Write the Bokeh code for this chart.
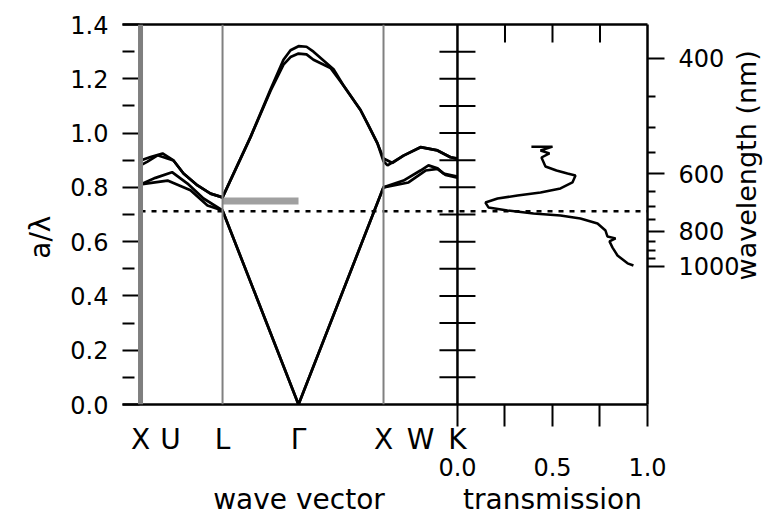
import math
from bokeh.plotting import figure
from bokeh.models import (Range1d, LinearAxis, FixedTicker, CustomJSTickFormatter,
                          NumeralTickFormatter, Span)
from bokeh.embed import file_html
from bokeh.resources import INLINE

FONT = "DejaVu Sans"

# ---------------- data ----------------
# high-symmetry points along the wave-vector path (units of 2*pi/a)
sym_labels = ["X", "U", "L", "Γ", "X", "W", "K"]
sym_k = [0.0, 0.353, 0.965, 1.859, 2.859, 3.294, 3.729]

# photonic bands (normalised frequency a/lambda)
band_upper_k = [0.0, 0.118, 0.259, 0.388, 0.506, 0.671, 0.824, 0.965, 1.294, 1.529, 1.682,
                1.765, 1.859, 1.953, 2.035, 2.271, 2.388, 2.588, 2.671, 2.788, 2.859, 2.906,
                3.094, 3.294, 3.494, 3.647, 3.729]
band_upper_f = [0.899, 0.912, 0.925, 0.899, 0.851, 0.807, 0.777, 0.763, 0.985, 1.160, 1.270,
                1.305, 1.320, 1.318, 1.300, 1.235, 1.175, 1.085, 1.035, 0.962, 0.896, 0.881,
                0.917, 0.948, 0.936, 0.911, 0.906]

band_upper2_k = [0.0, 0.082, 0.200, 0.388, 0.506, 0.671, 0.824, 0.965, 1.294, 1.529, 1.682,
                 1.765, 1.859, 1.953, 2.035, 2.235, 2.388, 2.588, 2.671, 2.788, 2.859, 2.965,
                 3.094, 3.294, 3.494, 3.647, 3.729]
band_upper2_f = [0.881, 0.895, 0.918, 0.899, 0.851, 0.807, 0.777, 0.763, 0.985, 1.155, 1.252,
                 1.280, 1.293, 1.290, 1.270, 1.240, 1.175, 1.085, 1.035, 0.962, 0.906, 0.890,
                 0.917, 0.948, 0.936, 0.911, 0.906]

band_low1_k = [0.0, 0.318, 0.588, 0.788, 0.965, 1.859, 2.859, 3.094, 3.294, 3.388, 3.494, 3.565, 3.729]
band_low1_f = [0.811, 0.825, 0.789, 0.733, 0.715, 0.0, 0.800, 0.825, 0.862, 0.881, 0.870, 0.851, 0.840]

band_low2_k = [0.0, 0.176, 0.371, 0.553, 0.741, 0.965, 1.859, 2.859, 3.153, 3.353, 3.494, 3.588, 3.729]
band_low2_f = [0.811, 0.835, 0.856, 0.814, 0.759, 0.715, 0.0, 0.800, 0.818, 0.862, 0.868, 0.846, 0.836]

# measured transmission spectrum
trans_T = [0.389, 0.500, 0.437, 0.484, 0.442, 0.463, 0.521, 0.579, 0.621, 0.605, 0.542, 0.437,
           0.316, 0.211, 0.147, 0.163, 0.263, 0.400, 0.542, 0.647, 0.737, 0.779, 0.789, 0.832,
           0.800, 0.816, 0.842, 0.895, 0.926]
trans_f = [0.950, 0.950, 0.936, 0.925, 0.910, 0.877, 0.862, 0.851, 0.844, 0.818, 0.796, 0.781,
           0.770, 0.759, 0.744, 0.726, 0.715, 0.704, 0.696, 0.685, 0.667, 0.641, 0.619, 0.612,
           0.601, 0.578, 0.549, 0.520, 0.512]

gap_f = 0.712                        # dotted line
stop_low, stop_high = 0.737, 0.763   # grey bar along L-Gamma

lattice_nm = 510.0
wl_major = [400, 600, 800, 1000]
wl_minor = [450, 500, 550, 650, 700, 750, 850, 900, 950]

y_major = [0.0, 0.2, 0.4, 0.6, 0.8, 1.0, 1.2, 1.4]
y_minor = [0.1, 0.3, 0.5, 0.7, 0.9, 1.1, 1.3]

trans_major = [0.0, 0.5, 1.0]
trans_minor = [0.25, 0.75]
trans_top = [0.25, 0.5, 0.75]

# placement of the rotated axis titles, in a/lambda units
ylabel_pos = 0.696     # upper end of "a/λ"
wl_label_pos = 0.457   # lower end of "wavelength (nm)"

# ---------------- figure ----------------
k_rng = Range1d(-0.212, 5.965)       # wave-vector panel scale
t_rng = Range1d(-1.763, 1.0)         # transmission panel scale (0..1 right of K)
y_rng = Range1d(0, 1.4)


def t_to_k(t):
    return k_rng.start + (t - t_rng.start) * (k_rng.end - k_rng.start) / (t_rng.end - t_rng.start)


def k_to_t(k):
    return t_rng.start + (k - k_rng.start) * (t_rng.end - t_rng.start) / (k_rng.end - k_rng.start)


def pick_formatter(positions, texts):
    return CustomJSTickFormatter(args=dict(ps=positions, ts=texts),
                                 code="const i = ps.findIndex(v => Math.abs(v - tick) < 1e-6);"
                                      " return i >= 0 ? ts[i] : '';")


p = figure(width=783, height=519, x_range=k_rng, y_range=y_rng,
           output_backend="svg", toolbar_location=None,
           x_axis_location=None, y_axis_location=None,
           min_border_left=122, min_border_right=136, min_border_top=24, min_border_bottom=115)
p.extra_x_ranges = {"trans": t_rng}
p.outline_line_color = None
p.xgrid.visible = False
p.ygrid.visible = False

txt = dict(major_label_text_font=FONT, major_label_text_color="black")

# ---- left: a/lambda ticks and title
p.add_layout(LinearAxis(ticker=FixedTicker(ticks=y_major, minor_ticks=y_minor),
                        formatter=NumeralTickFormatter(format="0.0"),
                        axis_line_color=None, major_tick_in=17, major_tick_out=0,
                        minor_tick_in=12, minor_tick_out=0, major_tick_line_width=2,
                        minor_tick_line_width=2, major_label_standoff=14,
                        major_label_text_font_size="24px", **txt), "left")
p.add_layout(LinearAxis(ticker=FixedTicker(ticks=[ylabel_pos]),
                        formatter=pick_formatter([ylabel_pos], ["a/λ"]),
                        axis_line_color=None, major_tick_in=0, major_tick_out=0,
                        minor_tick_in=0, minor_tick_out=0, major_label_standoff=27,
                        major_label_orientation=math.pi / 2,
                        major_label_text_font_size="28px", **txt), "left")

# ---- right: wavelength ticks and title
p.add_layout(LinearAxis(ticker=FixedTicker(ticks=[lattice_nm / w for w in wl_major],
                                           minor_ticks=[lattice_nm / w for w in wl_minor]),
                        formatter=CustomJSTickFormatter(code="return Math.round(%g / tick).toString();" % lattice_nm),
                        axis_line_width=2.5, major_tick_in=0, major_tick_out=17,
                        minor_tick_in=0, minor_tick_out=8, major_tick_line_width=2,
                        minor_tick_line_width=2, major_label_standoff=14,
                        major_label_text_font_size="24px", **txt), "right")
p.add_layout(LinearAxis(ticker=FixedTicker(ticks=[wl_label_pos]),
                        formatter=pick_formatter([wl_label_pos], ["wavelength (nm)"]),
                        axis_line_color=None, major_tick_in=0, major_tick_out=0,
                        minor_tick_in=0, minor_tick_out=0, major_label_standoff=4,
                        major_label_orientation=math.pi / 2,
                        major_label_text_font_size="27px", **txt), "right")

# ---- top frame line
p.add_layout(LinearAxis(ticker=FixedTicker(ticks=[]), axis_line_width=2.5,
                        major_tick_in=0, major_tick_out=0, minor_tick_in=0,
                        minor_tick_out=0, major_label_standoff=0), "above")

# ---- bottom: symmetry letters (+ transmission tick marks hanging from the frame)
trans_ticks_k = [t_to_k(t) for t in sorted(trans_major + trans_minor)]
p.add_layout(LinearAxis(ticker=FixedTicker(ticks=sym_k, minor_ticks=trans_ticks_k),
                        formatter=pick_formatter(sym_k, sym_labels),
                        axis_line_width=2.5, major_tick_in=0, major_tick_out=0,
                        minor_tick_in=0, minor_tick_out=22, minor_tick_line_width=2,
                        major_label_standoff=-4,
                        major_label_text_font_size="28px", **txt), "below")
# transmission numbers
p.add_layout(LinearAxis(x_range_name="trans", ticker=FixedTicker(ticks=trans_major),
                        formatter=NumeralTickFormatter(format="0.0"),
                        axis_line_color=None, major_tick_in=0, major_tick_out=0,
                        minor_tick_in=0, minor_tick_out=0, major_label_standoff=-1,
                        major_label_text_font_size="24px", **txt), "below")
# axis titles
k_mid = (sym_k[0] + sym_k[-1]) / 2
title_pos = [k_to_t(k_mid), 0.5]
p.add_layout(LinearAxis(x_range_name="trans", ticker=FixedTicker(ticks=title_pos),
                        formatter=pick_formatter(title_pos, ["wave vector", "transmission"]),
                        axis_line_color=None, major_tick_in=0, major_tick_out=0,
                        minor_tick_in=0, minor_tick_out=0, major_label_standoff=4,
                        major_label_text_font_size="28px", **txt), "below")

# ---- vertical lines at symmetry points / panel separator
p.add_layout(Span(location=sym_k[0], dimension="height", line_color="#7f7f7f", line_width=5))
p.add_layout(Span(location=sym_k[2], dimension="height", line_color="#808080", line_width=2))
p.add_layout(Span(location=sym_k[4], dimension="height", line_color="#808080", line_width=2))
p.add_layout(Span(location=sym_k[6], dimension="height", line_color="black", line_width=2.5))

# stop band along L-Gamma
p.quad(left=[sym_k[2]], right=[sym_k[3]], bottom=[stop_low], top=[stop_high],
       fill_color="#a0a0a0", line_color=None)

# dotted gap line across both panels
p.line(x=[sym_k[0], k_rng.end], y=[gap_f, gap_f], line_color="black", line_width=2.5,
       line_dash="5 6")

# bands
for kk, ff in [(band_upper_k, band_upper_f), (band_upper2_k, band_upper2_f),
               (band_low1_k, band_low1_f), (band_low2_k, band_low2_f)]:
    p.line(kk, ff, line_color="black", line_width=2.7)

# transmission
p.line(trans_T, trans_f, x_range_name="trans", line_color="black", line_width=2.5)

# ticks on the separator and along the top of the transmission panel
sep_ticks = [v for v in sorted(y_major + y_minor) if 0 < v < 1.4]
p.scatter(x=[sym_k[-1]] * len(sep_ticks), y=sep_ticks, marker="dash", size=36,
          line_color="black", line_width=2)
p.scatter(x=trans_top, y=[y_rng.end] * len(trans_top), x_range_name="trans",
          marker="dash", angle=math.pi / 2, size=36, line_color="black", line_width=2)

open("out.html", "w").write(file_html(p, INLINE))
